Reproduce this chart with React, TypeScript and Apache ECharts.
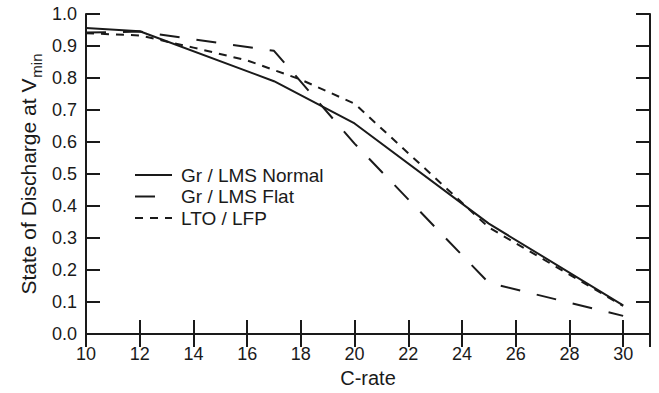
import React, { useEffect, useRef } from "react";
import * as echarts from "echarts";

const seriesNames = ["Gr / LMS Normal", "Gr / LMS Flat", "LTO / LFP"];

const normalRate = [10, 12, 17, 20, 25, 30];
const normalSOD = [0.956, 0.946, 0.79, 0.658, 0.345, 0.09];

const flatRate = [10, 12, 17, 20, 25, 30];
const flatSOD = [0.942, 0.945, 0.885, 0.595, 0.16, 0.057];

const ltoRate = [10, 12, 14, 16, 18, 20, 25, 30];
const ltoSOD = [0.94, 0.933, 0.895, 0.855, 0.795, 0.72, 0.333, 0.088];

const xTicks = [10, 12, 14, 16, 18, 20, 22, 24, 26, 28, 30];
const yTicks = [0, 0.1, 0.2, 0.3, 0.4, 0.5, 0.6, 0.7, 0.8, 0.9, 1.0];

const FONT = "'Liberation Sans', Arial, Helvetica, sans-serif";
const INK = "#1a1a1a";

const dashes: any[] = ["solid", [20, 17], [8, 7]];

function pairs(xs: number[], ys: number[]) {
  return xs.map((x, i) => [x, ys[i]]);
}

export default function App() {
  const ref = useRef<HTMLDivElement>(null);

  useEffect(() => {
    if (!ref.current) return;
    const chart = echarts.init(ref.current, undefined, { renderer: "svg" });

    const axisLine = { show: true, lineStyle: { color: INK, width: 2 } };
    const tickStyle = { color: INK, width: 2 };

    const legendX = 135;
    const legendTop = 175;
    const legendStep = 21.5;
    const legendGraphics: any[] = [];
    seriesNames.forEach((name, i) => {
      const y = legendTop + i * legendStep;
      const dash = dashes[i];
      legendGraphics.push({
        type: "line",
        shape: { x1: legendX, y1: y, x2: i === 1 ? legendX + 20 : legendX + 37, y2: y },
        style: {
          stroke: INK,
          lineWidth: 2,
          lineDash: dash === "solid" ? null : dash,
        },
      });
      legendGraphics.push({
        type: "text",
        x: 181,
        y,
        style: {
          text: name,
          fontFamily: FONT,
          fontSize: 19,
          fill: INK,
          verticalAlign: "middle",
          align: "left",
        },
      });
    });

    const option: any = {
      animation: false,
      backgroundColor: "#ffffff",
      grid: { left: 86, right: 9, top: 14, bottom: 57, containLabel: false },
      xAxis: [
        {
          type: "value",
          min: xTicks[0],
          max: 31,
          interval: 2,
          position: "bottom",
          axisLine,
          axisTick: { show: true, inside: true, length: 14, lineStyle: tickStyle },
          splitLine: { show: false },
          axisLabel: {
            show: true,
            margin: 11,
            fontFamily: FONT,
            fontSize: 18,
            color: INK,
            showMaxLabel: false,
            formatter: (v: number) => (xTicks.includes(v) ? String(v) : ""),
          },
          name: "C-rate",
          nameLocation: "middle",
          nameGap: 33,
          nameTextStyle: { fontFamily: FONT, fontSize: 20, color: INK },
        },
        {
          type: "value",
          min: xTicks[0],
          max: 31,
          interval: 2,
          position: "top",
          axisLine,
          axisTick: { show: true, inside: true, length: 13, lineStyle: tickStyle },
          splitLine: { show: false },
          axisLabel: { show: false },
        },
      ],
      yAxis: [
        {
          type: "value",
          min: yTicks[0],
          max: yTicks[yTicks.length - 1],
          interval: 0.1,
          position: "left",
          axisLine,
          axisTick: { show: true, inside: true, length: 14, lineStyle: tickStyle },
          splitLine: { show: false },
          axisLabel: {
            margin: 9,
            fontFamily: FONT,
            fontSize: 18,
            color: INK,
            formatter: (v: number) => v.toFixed(1),
          },
        },
        {
          type: "value",
          min: yTicks[0],
          max: yTicks[yTicks.length - 1],
          interval: 0.1,
          position: "right",
          axisLine,
          axisTick: { show: true, inside: true, length: 14, lineStyle: tickStyle },
          splitLine: { show: false },
          axisLabel: { show: false },
        },
      ],
      graphic: [
        {
          type: "text",
          x: 26,
          y: 174,
          rotation: Math.PI / 2,
          style: {
            text: "{a|State of Discharge at V}{b|min}",
            align: "center",
            verticalAlign: "middle",
            fill: INK,
            rich: {
              a: { fontFamily: FONT, fontSize: 21, color: INK, lineHeight: 26, verticalAlign: "bottom" },
              b: { fontFamily: FONT, fontSize: 15, color: INK, lineHeight: 26, verticalAlign: "bottom", padding: [0, 0, -5, 1] },
            },
          },
        },
        ...legendGraphics,
      ],
      series: [
        {
          name: seriesNames[0],
          type: "line",
          data: pairs(normalRate, normalSOD),
          showSymbol: false,
          symbol: "none",
          lineStyle: { color: INK, width: 2, type: dashes[0] },
          itemStyle: { color: INK },
        },
        {
          name: seriesNames[1],
          type: "line",
          data: pairs(flatRate, flatSOD),
          showSymbol: false,
          symbol: "none",
          lineStyle: { color: INK, width: 2, type: dashes[1] },
          itemStyle: { color: INK },
        },
        {
          name: seriesNames[2],
          type: "line",
          data: pairs(ltoRate, ltoSOD),
          showSymbol: false,
          symbol: "none",
          lineStyle: { color: INK, width: 2, type: dashes[2] },
          itemStyle: { color: INK },
        },
      ],
    };

    chart.setOption(option);
    return () => chart.dispose();
  }, []);

  return (
    <div
      ref={ref}
      style={{ position: "fixed", left: 0, top: 0, width: 659, height: 393, background: "#fff" }}
    />
  );
}
